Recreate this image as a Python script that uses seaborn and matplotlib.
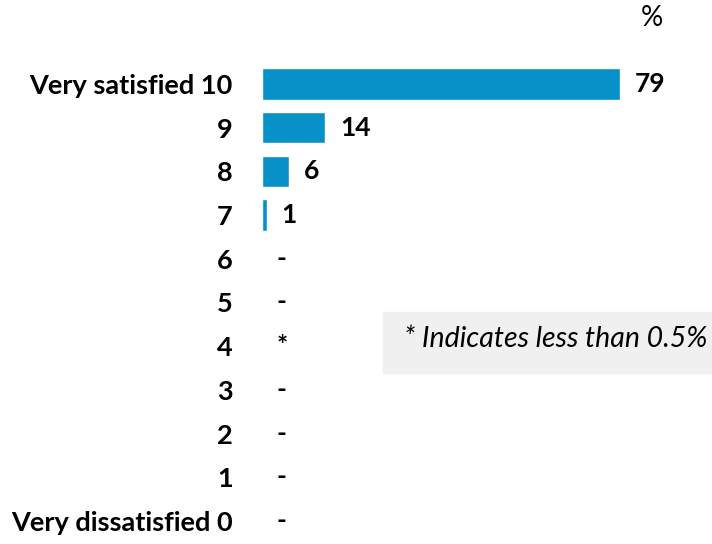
import matplotlib
matplotlib.use("Agg")
import matplotlib.pyplot as plt
import seaborn as sns
import pandas as pd

# Satisfaction scale, top to bottom
categories = ["Very satisfied 10", "9", "8", "7", "6", "5", "4", "3", "2", "1", "Very dissatisfied 0"]
percentages = [79, 14, 6, 1, 0, 0, 0, 0, 0, 0, 0]
value_labels = ["79", "14", "6", "1", "-", "-", "*", "-", "-", "-", "-"]
footnote = "* Indicates less than 0.5%"
unit_label = "%"

bar_color = "#0890C8"
font = ["Lato", "DejaVu Sans"]

sns.set_theme(style="white")
plt.rcParams["font.family"] = font

df = pd.DataFrame({"category": categories, "pct": percentages})

fig = plt.figure(figsize=(7.12, 5.44), dpi=100)
W, H = 712, 544
ax_left, ax_right = 262, 700
ax_top, ax_bottom = 62, 543
ax = fig.add_axes([ax_left / W, (H - ax_bottom) / H,
                   (ax_right - ax_left) / W, (ax_bottom - ax_top) / H])
ax.set_facecolor("none")

sns.barplot(data=df, x="pct", y="category", order=categories, color=bar_color,
            saturation=1, width=0.72, orient="h", ax=ax)

px_per_unit = 4.53
ax.set_xlim(0, (ax_right - ax_left) / px_per_unit)
ax.set_xlabel("")
ax.set_ylabel("")
ax.set_xticks([])
ax.tick_params(axis="y", length=0, pad=21)
for lbl in ax.get_yticklabels():
    lbl.set_fontweight("bold")
    lbl.set_fontsize(19.5)
    lbl.set_color("black")
for s in ax.spines.values():
    s.set_visible(False)

# value labels at bar ends
gap = 15 / px_per_unit
for i, (v, t) in enumerate(zip(percentages, value_labels)):
    ax.text(v + gap, i, t, ha="left", va="center", fontsize=19,
            fontweight="bold", color="black")

fig.text(652 / W, 1 - 18 / H, unit_label, ha="center", va="center",
         fontsize=20, color="black")

# footnote box
fig.add_artist(plt.Rectangle((383 / W, 1 - 373 / H), (712 - 383) / W, 61 / H,
                             transform=fig.transFigure, color="#F0F0F0",
                             zorder=-1))
fig.text(556 / W, 1 - 339 / H, footnote, ha="center", va="center",
         fontsize=20.5, fontstyle="italic", color="black")

fig.savefig("out.png", dpi=100)
